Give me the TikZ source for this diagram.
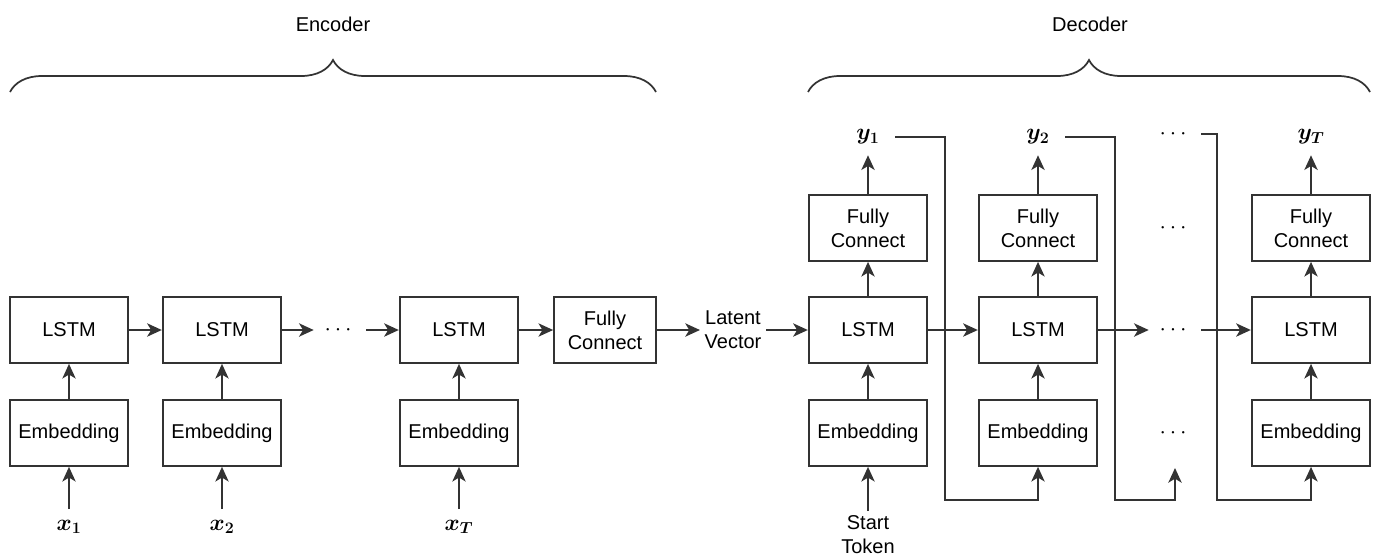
\documentclass[tikz,border=0pt]{standalone}
\usepackage{amsmath,amssymb,bm}
\usepackage[no-math]{fontspec}
\setmainfont{Liberation Sans}
\usetikzlibrary{arrows.meta,positioning,calc,decorations.pathreplacing}

\begin{document}
\begin{tikzpicture}[x=0.75pt, y=-0.75pt,
    box/.style={draw=black!80, line width=1.3pt, minimum width=89pt, minimum height=49.5pt, align=center, font=\fontsize{15}{18}\selectfont, inner sep=2pt},
    lbl/.style={align=center, font=\fontsize{15}{18}\selectfont},
    io/.style={font=\fontsize{17}{20}\selectfont, inner ysep=8pt},
    dts/.style={font=\fontsize{18}{20}\selectfont, inner xsep=8pt},
    arr/.style={-{Stealth[length=11pt,width=10pt,inset=3pt]}, line width=1.3pt, draw=black!80},
    brc/.style={decorate, decoration={brace, amplitude=24pt}, line width=1.3pt, draw=black!80}
]
\useasboundingbox (0,0) rectangle (1377,558);

% braces
\draw[brc] (10,92) -- (656,92);
\draw[brc] (808,92) -- (1370,92);
\node[lbl] (enc) at (333,24) {Encoder};
\node[lbl] (dec) at (1090,24) {Decoder};

% encoder
\node[box] (lstm1) at (69,330) {LSTM};
\node[box] (emb1) at (69,433) {Embedding};
\node[io] (x1) at (69,527) {$\bm{x_1}$};
\node[box] (lstm2) at (222,330) {LSTM};
\node[box] (emb2) at (222,433) {Embedding};
\node[io] (x2) at (222,527) {$\bm{x_2}$};
\node[dts] (edots) at (340,330) {$\cdots$};
\node[box] (lstm3) at (459,330) {LSTM};
\node[box] (emb3) at (459,433) {Embedding};
\node[io] (x3) at (459,527) {$\bm{x_T}$};
\node[box, minimum width=76.5pt] (efc) at (605,330) {Fully\\Connect};
\node[lbl] (latent) at (733,330) {Latent\\Vector};

\draw[arr] (x1) -- (emb1);
\draw[arr] (x2) -- (emb2);
\draw[arr] (x3) -- (emb3);
\draw[arr] (emb1) -- (lstm1);
\draw[arr] (emb2) -- (lstm2);
\draw[arr] (emb3) -- (lstm3);
\draw[arr] (lstm1) -- (lstm2);
\draw[arr] (lstm2) -- (edots);
\draw[arr] (edots) -- (lstm3);
\draw[arr] (lstm3) -- (efc);
\draw[arr] (efc) -- (latent);

% decoder
\node[box] (dlstm1) at (868,330) {LSTM};
\node[box] (demb1) at (868,433) {Embedding};
\node[box] (dfc1) at (868,228) {Fully\\Connect};
\node[io] (y1) at (868,137) {$\bm{y_1}$};
\node[lbl] (start) at (868,535) {Start\\Token};
\node[box] (dlstm2) at (1038,330) {LSTM};
\node[box] (demb2) at (1038,433) {Embedding};
\node[box] (dfc2) at (1038,228) {Fully\\Connect};
\node[io] (y2) at (1038,137) {$\bm{y_2}$};
\node[dts] (dtop) at (1175,134) {$\cdots$};
\node[dts] (dmid) at (1175,228) {$\cdots$};
\node[dts] (ddots) at (1175,330) {$\cdots$};
\node[dts] (dlow) at (1175,433) {$\cdots$};
\node[box] (dlstm3) at (1311,330) {LSTM};
\node[box] (demb3) at (1311,433) {Embedding};
\node[box] (dfc3) at (1311,228) {Fully\\Connect};
\node[io] (y3) at (1311,137) {$\bm{y_T}$};

\draw[arr] (latent) -- (dlstm1);
\draw[arr] (start) -- (demb1);
\draw[arr] (demb1) -- (dlstm1);
\draw[arr] (demb2) -- (dlstm2);
\draw[arr] (demb3) -- (dlstm3);
\draw[arr] (dlstm1) -- (dfc1);
\draw[arr] (dlstm2) -- (dfc2);
\draw[arr] (dlstm3) -- (dfc3);
\draw[arr] (dfc1) -- (y1);
\draw[arr] (dfc2) -- (y2);
\draw[arr] (dfc3) -- (y3);
\draw[arr] (dlstm1) -- (dlstm2);
\draw[arr] (dlstm2) -- (ddots);
\draw[arr] (ddots) -- (dlstm3);

% feedback of outputs
\coordinate (fb1) at (945,500);
\coordinate (fb2) at (1115,500);
\coordinate (fb3) at (1217,500);
\coordinate (dotin) at (1175,468);
\draw[arr] ([xshift=8pt]y1.east) -| (fb1) -| (demb2.south);
\draw[arr] ([xshift=8pt]y2.east) -| (fb2) -| (dotin);
\draw[arr] (dtop.east) -| (fb3) -| (demb3.south);
\end{tikzpicture}
\end{document}
